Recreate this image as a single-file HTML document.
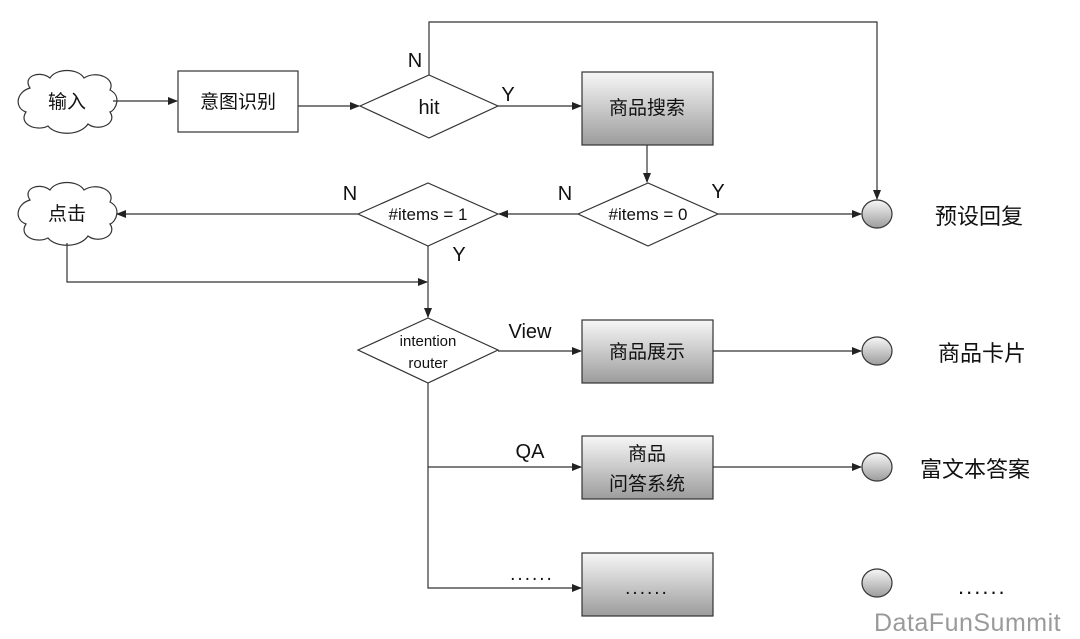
<!DOCTYPE html>
<html><head><meta charset="utf-8"><style>
html,body{margin:0;padding:0;background:#fff;}
svg{display:block;}
text{font-family:"Liberation Sans","Noto Sans CJK SC",sans-serif;fill:#111;}
</style></head><body>
<svg width="1080" height="639" viewBox="0 0 1080 639" xmlns="http://www.w3.org/2000/svg">
<defs>
<linearGradient id="g" x1="0" y1="0" x2="0" y2="1"><stop offset="0" stop-color="#f7f7f7"/><stop offset="1" stop-color="#9c9c9c"/></linearGradient>
<marker id="a" markerWidth="10" markerHeight="8" refX="9" refY="4" orient="auto" markerUnits="userSpaceOnUse"><path d="M0,0 L10,4 L0,8 z" fill="#222"/></marker>
</defs>
<g stroke="#333" stroke-width="1.2" fill="none">
<path d="M30,88 C22,76 40,70 50,78 C56,68 78,68 84,78 C96,70 116,78 110,90 C122,96 116,110 110,112 C118,124 98,132 88,124 C80,136 56,136 48,126 C36,132 18,124 26,112 C14,108 16,92 30,88 Z" fill="#fff"/>
<path d="M30,200 C22,188 40,182 50,190 C56,180 78,180 84,190 C96,182 116,190 110,202 C122,208 116,222 110,224 C118,236 98,244 88,236 C80,248 56,248 48,238 C36,244 18,236 26,224 C14,220 16,204 30,200 Z" fill="#fff"/>
<rect x="178" y="71" width="120" height="61" fill="#fff"/>
<rect x="582" y="72" width="131" height="73" fill="url(#g)"/>
<rect x="582" y="320" width="131" height="63" fill="url(#g)"/>
<rect x="582" y="436" width="131" height="63" fill="url(#g)"/>
<rect x="582" y="553" width="131" height="63" fill="url(#g)"/>
<polygon points="360,106 429,75 498,106 429,138" fill="#fff"/>
<polygon points="578,214 648,183 718,214 648,246" fill="#fff"/>
<polygon points="358,214 428,183 498,214 428,246" fill="#fff"/>
<polygon points="358,350 428,318 498,350 428,383" fill="#fff"/>
<ellipse cx="877" cy="214" rx="15" ry="14" fill="url(#g)"/>
<ellipse cx="877" cy="351" rx="15" ry="14" fill="url(#g)"/>
<ellipse cx="877" cy="467" rx="15" ry="14" fill="url(#g)"/>
<ellipse cx="877" cy="583" rx="15" ry="14" fill="url(#g)"/>
<line x1="113" y1="101" x2="177" y2="101" marker-end="url(#a)"/>
<line x1="298" y1="106" x2="359" y2="106" marker-end="url(#a)"/>
<polyline points="429,75 429,22 877,22 877,199" marker-end="url(#a)"/>
<line x1="498" y1="106" x2="581" y2="106" marker-end="url(#a)"/>
<line x1="647" y1="145" x2="647" y2="182" marker-end="url(#a)"/>
<line x1="718" y1="214" x2="861" y2="214" marker-end="url(#a)"/>
<line x1="578" y1="214" x2="499" y2="214" marker-end="url(#a)"/>
<line x1="358" y1="214" x2="117" y2="214" marker-end="url(#a)"/>
<line x1="428" y1="246" x2="428" y2="317" marker-end="url(#a)"/>
<polyline points="67,243 67,282 427,282" marker-end="url(#a)"/>
<line x1="498" y1="351" x2="581" y2="351" marker-end="url(#a)"/>
<line x1="713" y1="351" x2="861" y2="351" marker-end="url(#a)"/>
<polyline points="428,383 428,588 581,588" marker-end="url(#a)"/>
<line x1="428" y1="467" x2="581" y2="467" marker-end="url(#a)"/>
<line x1="713" y1="467" x2="861" y2="467" marker-end="url(#a)"/>
</g>
<g font-size="19" text-anchor="middle">
<text x="67" y="108">输入</text>
<text x="67" y="220">点击</text>
<text x="238" y="108">意图识别</text>
<text x="647" y="114">商品搜索</text>
<text x="647" y="358">商品展示</text>
<text x="647" y="460">商品</text>
<text x="647" y="490">问答系统</text>
<text x="647" y="594" letter-spacing="2">......</text>
<text x="429" y="114" font-size="20">hit</text>
<text x="648" y="220" font-size="17">#items = 0</text>
<text x="428" y="220" font-size="17">#items = 1</text>
<text x="428" y="346" font-size="15">intention</text>
<text x="428" y="368" font-size="15">router</text>
<text x="415" y="67" font-size="20">N</text>
<text x="508" y="101" font-size="20">Y</text>
<text x="350" y="200" font-size="20">N</text>
<text x="565" y="200" font-size="20">N</text>
<text x="718" y="198" font-size="20">Y</text>
<text x="459" y="261" font-size="20">Y</text>
<text x="530" y="338" font-size="20">View</text>
<text x="530" y="458" font-size="20">QA</text>
<text x="532" y="580" letter-spacing="2">......</text>
</g>
<g font-size="22">
<text x="935" y="224">预设回复</text>
<text x="938" y="361">商品卡片</text>
<text x="920" y="477">富文本答案</text>
<text x="958" y="594" letter-spacing="2">......</text>
</g>
<text x="874" y="631" font-size="25" letter-spacing="0.5" style="fill:#9a9a9a">DataFunSummit</text>
</svg>
</body></html>
